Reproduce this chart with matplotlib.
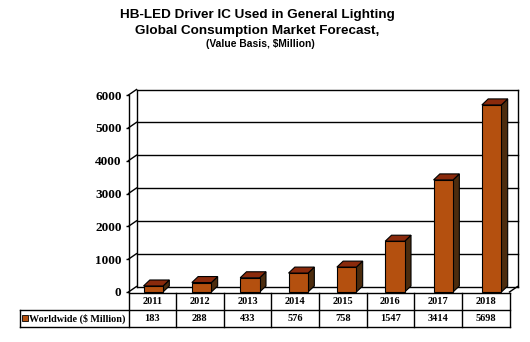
import matplotlib.pyplot as plt
from matplotlib.patches import Polygon, Rectangle

# data
years = ["2011", "2012", "2013", "2014", "2015", "2016", "2017", "2018"]
values = [183, 288, 433, 576, 758, 1547, 3414, 5698]
series_name = "Worldwide ($ Million)"
yticks = [0, 1000, 2000, 3000, 4000, 5000, 6000]

# colours
front_c = "#B4500F"
top_c = "#8A2A0C"
side_c = "#4C2C0E"

W, H = 530, 342
fig = plt.figure(figsize=(W / 100, H / 100), dpi=100)


def box(x0, y0, x1, y1):
    # pixel box (top-left origin) -> figure fraction
    return [x0 / W, 1 - y1 / H, (x1 - x0) / W, (y1 - y0) / H]


ncol = len(years)
ax_l, ax_r, ax_t, ax_b = 128.5, 509.5, 95, 292
colw = (ax_r - ax_l) / ncol
ymax = 6000
px_y = ymax / (ax_b - ax_t)

ax = fig.add_axes(box(ax_l, ax_t, ax_r, ax_b))
ax.set_xlim(0, ncol)
ax.set_ylim(0, ymax)
for s in ["top", "right", "bottom"]:
    ax.spines[s].set_visible(False)
ax.spines["left"].set_linewidth(1.0)
ax.set_xticks([])
ax.set_yticks(yticks)
ax.set_yticklabels([str(t) for t in yticks], fontsize=9.5, fontweight="bold",
                   family="Liberation Serif")
ax.tick_params(axis="y", length=2, width=1, pad=3)

# wall depth
dxw = 8 / colw
dyw = 5.5 * px_y
lk = dict(color="black", lw=1.0, clip_on=False)
for v in yticks:
    ax.plot([dxw, ncol + dxw], [v + dyw, v + dyw], zorder=1, **lk)
    ax.plot([0, dxw], [v, v + dyw], zorder=1, **lk)
ax.plot([dxw, dxw], [dyw, ymax + dyw], zorder=1, **lk)
ax.plot([ncol + dxw, ncol + dxw], [dyw, ymax + dyw], zorder=1, **lk)
ax.plot([ncol, ncol + dxw], [0, dyw], zorder=1, **lk)

# 3d bars
dxb = 6.3 / colw
dyb = 6 * px_y
bw = 19.5 / colw
bar_start, bar_step = 0.52, 1.015
for i, v in enumerate(values):
    xc = bar_start + bar_step * i
    x0, x1 = xc - bw / 2, xc + bw / 2
    ax.add_patch(Polygon([(x1, 0), (x1 + dxb, dyb), (x1 + dxb, v + dyb), (x1, v)],
                         closed=True, fc=side_c, ec="black", lw=0.8, zorder=3, clip_on=False))
    ax.add_patch(Polygon([(x0, v), (x1, v), (x1 + dxb, v + dyb), (x0 + dxb, v + dyb)],
                         closed=True, fc=top_c, ec="black", lw=0.8, zorder=3, clip_on=False))
    ax.add_patch(Rectangle((x0, 0), bw, v, fc=front_c, ec="black", lw=0.8,
                           zorder=4, clip_on=False))

# data table
tab_l, tab_t, tab_b = 20, 292.5, 327
lab_w = (ax_l - tab_l) / colw
tx = fig.add_axes(box(tab_l, tab_t, ax_r, tab_b))
tx.set_xlim(-lab_w, ncol)
tx.set_ylim(2, 0)
tx.axis("off")
tk = dict(color="black", lw=1.0, clip_on=False)
tx.plot([0, ncol], [0, 0], **tk)
tx.plot([-lab_w, ncol], [1, 1], **tk)
tx.plot([-lab_w, ncol], [2, 2], **tk)
tx.plot([-lab_w, -lab_w], [1, 2], **tk)
for j in range(ncol + 1):
    tx.plot([j, j], [0, 2], **tk)
tf = dict(fontsize=7.5, fontweight="bold", family="Liberation Serif",
          ha="center", va="center")
for j, (yr, v) in enumerate(zip(years, values)):
    tx.text(j + 0.5, 0.55, yr, **tf)
    tx.text(j + 0.5, 1.5, str(v), **tf)
tx.plot([-lab_w + 0.11], [1.5], marker="s", ms=4.3, mfc=front_c, mec="black",
        mew=0.6, clip_on=False)
tx.text(-lab_w + 0.19, 1.52, series_name, fontsize=7.3, fontweight="bold",
        family="Liberation Serif", ha="left", va="center")

# titles
tt = dict(fontweight="bold", family="Liberation Sans", ha="center", va="center")
fig.text(257 / W, 1 - 15 / H, "HB-LED Driver IC Used in General Lighting", fontsize=9.7, **tt)
fig.text(257 / W, 1 - 31 / H, "Global Consumption Market Forecast,", fontsize=9.7, **tt)
fig.text(260 / W, 1 - 44 / H, "(Value Basis, $Million)", fontsize=7.4, **tt)

fig.savefig("out.png", dpi=100)
